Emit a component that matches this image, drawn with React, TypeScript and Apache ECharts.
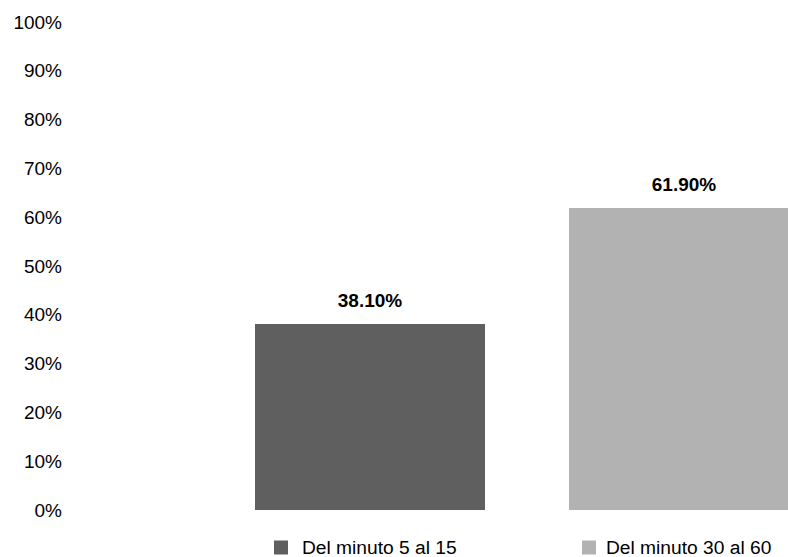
import React, { useEffect, useRef } from "react";
import * as echarts from "echarts";

const categories = ["Del minuto 5 al 15", "Del minuto 30 al 60"];
const values = [38.1, 61.9];
const colors = ["#5f5f5f", "#b2b2b2"];
const yTicks = [0, 10, 20, 30, 40, 50, 60, 70, 80, 90, 100];

const FONT = "'Liberation Sans', Arial, sans-serif";

export default function App() {
  const ref = useRef<HTMLDivElement>(null);
  useEffect(() => {
    if (!ref.current) return;
    const chart = echarts.init(ref.current, null, { renderer: "svg" });
    const series = categories.map((name, i) => ({
      name,
      type: "bar",
      barWidth: 230,
      barGap: "-100%",
      clip: false,
      itemStyle: { color: colors[i] },
      data: categories.map((_, j) => (j === i ? values[i] : "-")),
      label: {
        show: true,
        position: "top",
        distance: 14,
        formatter: (p: any) => p.value.toFixed(2) + "%",
        fontFamily: FONT,
        fontWeight: "bold",
        fontSize: 19,
        color: "#000",
      },
    }));
    const legendText = (pad: number) => ({
      fontFamily: FONT,
      fontSize: 19.2,
      lineHeight: 16,
      color: "#000",
      padding: [0, 0, 0, pad],
    });
    chart.setOption({
      animation: false,
      textStyle: { fontFamily: FONT },
      grid: { left: 370, top: 22, right: 104, bottom: 47, containLabel: false },
      legend: [
        {
          data: [categories[0]],
          left: 274,
          top: 538,
          padding: 0,
          icon: "rect",
          itemWidth: 14,
          itemHeight: 14,
          selectedMode: false,
          textStyle: legendText(9),
        },
        {
          data: [categories[1]],
          left: 582,
          top: 538,
          padding: 0,
          icon: "rect",
          itemWidth: 14,
          itemHeight: 14,
          selectedMode: false,
          textStyle: legendText(5),
        },
      ],
      xAxis: {
        type: "category",
        data: categories,
        boundaryGap: false,
        axisLine: { show: false },
        axisTick: { show: false },
        axisLabel: { show: false },
      },
      yAxis: {
        type: "value",
        min: yTicks[0],
        max: yTicks[yTicks.length - 1],
        interval: 10,
        splitLine: { show: false },
        axisLine: { show: false },
        axisTick: { show: false },
        axisLabel: {
          margin: 308,
          fontFamily: FONT,
          fontSize: 19,
          color: "#000",
          formatter: (v: number) => v + "%",
        },
      },
      series,
    });
    return () => chart.dispose();
  }, []);
  return <div ref={ref} style={{ width: 788, height: 557, position: "absolute", left: 0, top: 0 }} />;
}
